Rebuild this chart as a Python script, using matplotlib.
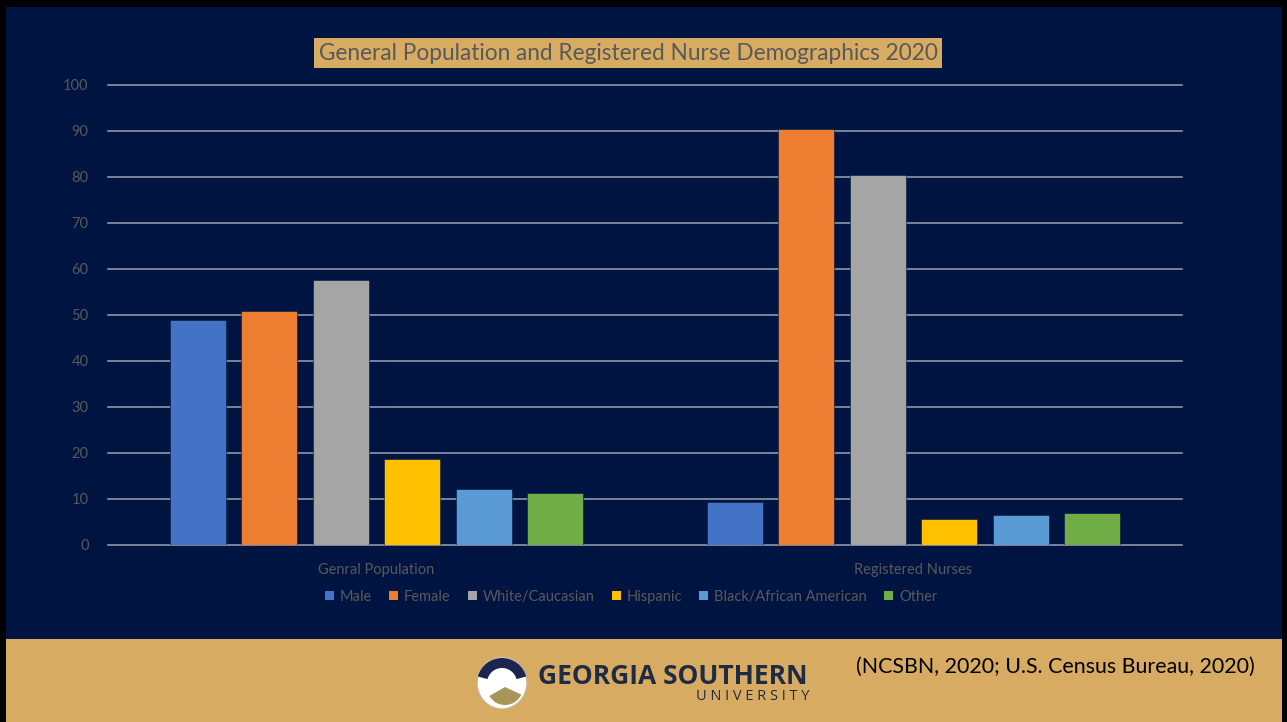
import numpy as np
import matplotlib
matplotlib.use("Agg")
import matplotlib.pyplot as plt
from matplotlib.patches import Rectangle, Ellipse, Wedge, Patch

# chart values
groups = ["Genral Population", "Registered Nurses"]
series = ["Male", "Female", "White/Caucasian", "Hispanic", "Black/African American", "Other"]
gen_pop = [48.9, 50.8, 57.7, 18.7, 12.1, 11.3]
nurses = [9.3, 90.5, 80.5, 5.6, 6.6, 7.0]
colors = ["#4472C4", "#ED7D31", "#A5A5A5", "#FFC000", "#5B9BD5", "#70AD47"]
y_ticks = list(range(0, 101, 10))

title = "General Population and Registered Nurse Demographics 2020"
citation = "(NCSBN, 2020; U.S. Census Bureau, 2020)"

NAVY = "#001442"
GOLD = "#D8AB63"
GREY_TXT = "#595959"
GRID = "#9AA1B4"

W, H = 1287, 722
plt.rcParams["font.family"] = ["Lato", "DejaVu Sans"]

fig = plt.figure(figsize=(W / 100, H / 100), dpi=100, facecolor="black")

# slide background drawn in pixel coordinates (y grows downwards)
bg = fig.add_axes([0, 0, 1, 1], zorder=0)
bg.set_xlim(0, W)
bg.set_ylim(H, 0)
bg.axis("off")
bg.add_patch(Rectangle((6, 7), 1276, 632, color=NAVY, lw=0))
bg.add_patch(Rectangle((6, 639), 1276, H - 639, color=GOLD, lw=0))

# title box
bg.text(628, 53, title, ha="center", va="center", fontsize=16.3, color=GREY_TXT,
        bbox=dict(boxstyle="square,pad=0.2", fc=GOLD, ec="none"))

# logo
cx, cy = 502, 683
bg.add_patch(Ellipse((cx, cy), 50, 52, fc="white", ec="#C9B48A", lw=1))
bg.add_patch(Wedge((cx, cy), 25, 195, 345, width=10, fc="#1B2550", ec="none"))
bg.add_patch(Wedge((cx + 3, cy + 4), 18, 25, 150, fc="#A89658", ec="none"))
bg.text(538, 677, "GEORGIA SOUTHERN", ha="left", va="center", fontsize=19,
        fontweight="bold", color="#1F2A44", family=["Open Sans", "DejaVu Sans"])
bg.text(810, 697, "U N I V E R S I T Y", ha="right", va="center", fontsize=10.5,
        color="#1F2A44", family=["Open Sans", "DejaVu Sans"])

bg.text(1255, 667, citation, ha="right", va="center", fontsize=15.4, color="black")

# the chart itself
ax = fig.add_axes([108 / W, 1 - 545 / H, (1182 - 108) / W, (545 - 85) / H], zorder=1)
ax.set_facecolor("none")

x = np.arange(len(groups))
slot = 0.1332
width = 0.1043
for i, name in enumerate(series):
    vals = [gen_pop[i], nurses[i]]
    ax.bar(x + (i - 2.5) * slot, vals, width, color=colors[i], label=name,
           edgecolor=NAVY, linewidth=0.4, zorder=3)

ax.set_xlim(-0.5, 1.5)
ax.set_ylim(0, 100)
ax.set_yticks(y_ticks)
ax.yaxis.grid(True, color=GRID, lw=1.1, zorder=1)
for gl in ax.get_ygridlines():
    gl.set_clip_on(False)
ax.set_xticks(x)
ax.set_xticklabels(groups)
ax.tick_params(axis="both", length=0, colors=GREY_TXT, labelsize=10.5)
ax.tick_params(axis="x", pad=13)
ax.tick_params(axis="y", pad=14)
for s in ax.spines.values():
    s.set_visible(False)

handles = [Patch(fc=c, ec="none") for c in colors]
leg = fig.legend(handles, series, loc="center", bbox_to_anchor=(631 / W, 1 - 597 / H),
                 ncol=6, frameon=False, fontsize=10.5, handlelength=0.6, handleheight=0.6,
                 handletextpad=0.4, columnspacing=1.2)
for t in leg.get_texts():
    t.set_color(GREY_TXT)

fig.savefig("out.png", dpi=100, facecolor=fig.get_facecolor())
